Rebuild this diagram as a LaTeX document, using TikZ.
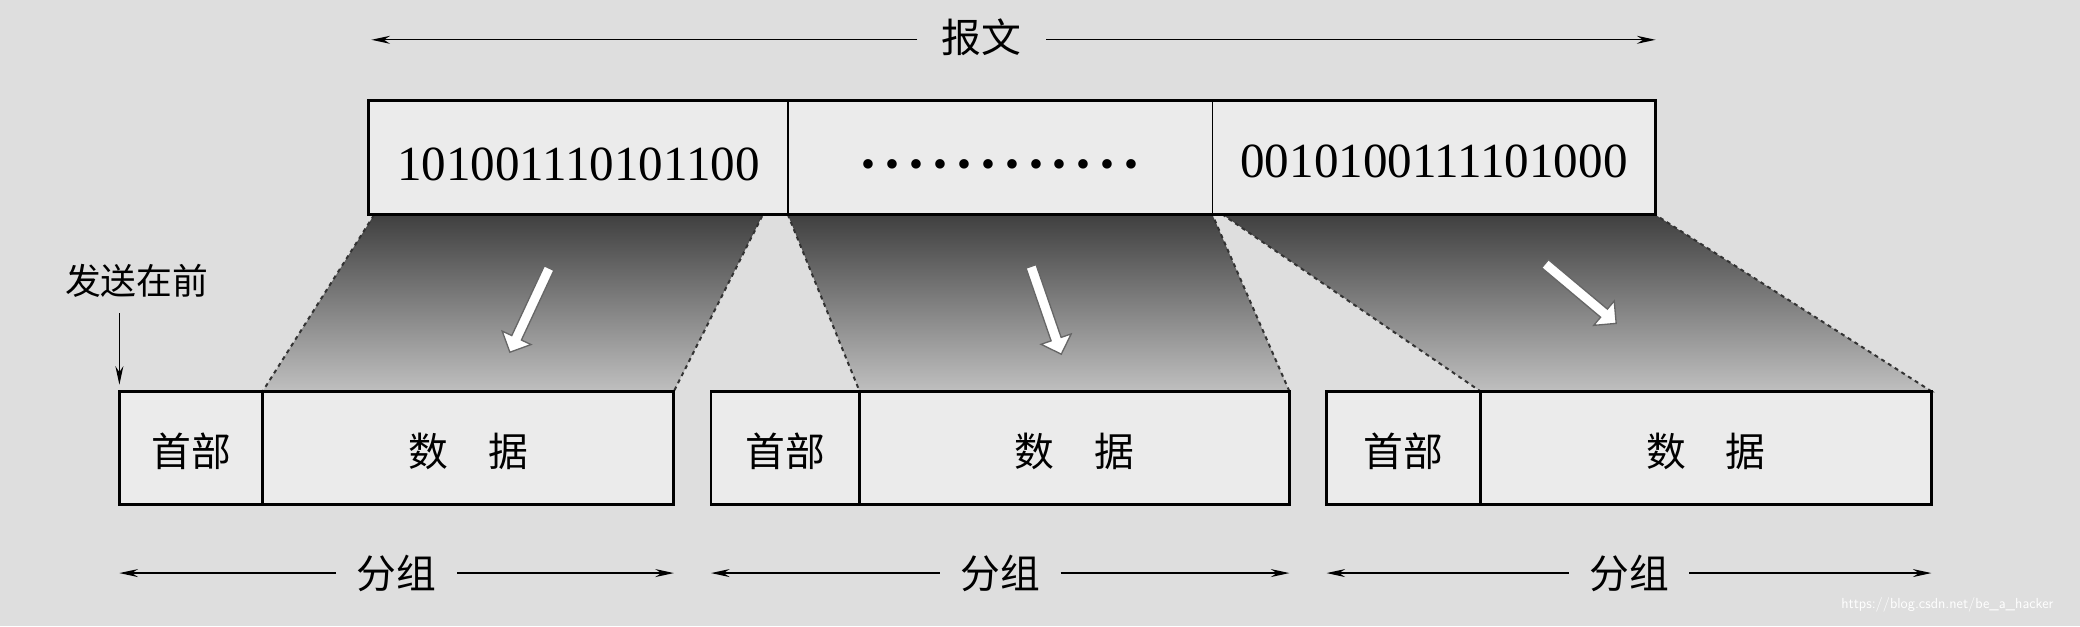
\documentclass[tikz,border=0pt]{standalone}
\usepackage{fontspec}
\setmainfont{Liberation Serif}
\newfontfamily\cjk{Noto Sans CJK SC}
\usetikzlibrary{shapes.arrows,arrows.meta}
\begin{document}
\begin{tikzpicture}[x=1pt,y=-1pt,
  box/.style={draw,line width=2.2pt},
  lbl/.style={font=\cjk\fontsize{30}{32}\selectfont},
  dig/.style={font=\fontsize{37}{40}\selectfont},
  shad/.style={top color=black!75,bottom color=black!25,draw=black!80,dashed,line width=1.5pt},
  harrow/.style={single arrow,draw=black!60,fill=white,minimum height=70pt,minimum width=24pt,single arrow head extend=5pt,inner sep=2pt,line width=1pt},
  dim/.style={-{Stealth[length=14pt,width=6pt]},line width=1pt}]
\fill[black!13] (0,0) rectangle (1568,472);
\useasboundingbox (0,0) rectangle (1568,472);
% shaded trapezoids
\shade[shad] (282,162) -- (575,162) -- (508,295) -- (198,295) -- cycle;
\shade[shad] (594,162) -- (914,162) -- (972,295) -- (648,295) -- cycle;
\shade[shad] (922,162) -- (1248,162) -- (1456,295) -- (1116,295) -- cycle;
% message
\node[lbl] (msg) at (740,28) {报文};
\coordinate (ml) at (280,30); \coordinate (mr) at (1248,30);
\draw[dim] (msg.west) ++(-15,2) coordinate (m1) -- (ml);
\draw[dim] (msg.east) ++(15,2) coordinate (m2) -- (mr);
\draw[box,fill=black!8] (278,76) rectangle (1248,162);
\draw[line width=1pt] (594,76) -- (594,162) (914,76) -- (914,162);
\node[dig] (b1) at (436,124) {101001110101100};
\node[dig,font=\fontsize{30}{32}\selectfont] (b2) at (754,127) {• • • • • • • • • • • •};
\node[dig] (b3) at (1081,122) {0010100111101000};
% arrows
\node[harrow,rotate=245] (a1) at (400,232) {};
\node[harrow,rotate=289] (a2) at (788,232) {};
\node[harrow,rotate=-40] (a3) at (1190,220) {};
% packets
\foreach \i/\l/\d/\r in {1/90/198/508,2/536/648/972,3/1000/1116/1456}{
  \draw[box,fill=black!8] (\l,295) rectangle (\r,380);
  \draw[line width=2pt] (\d,295) -- (\d,380);
  \node[lbl] (h\i) at ({(\l+\d)/2},340) {首部};
  \node[lbl] (d\i) at ({(\d+\r)/2},340) {数\quad 据};
  \node[lbl] (g\i) at ({(\l+\r)/2},432) {分组};
  \coordinate (gl\i) at (\l,432); \coordinate (gr\i) at (\r,432);
  \draw[dim] (g\i.west) ++(-12,0) -- (gl\i);
  \draw[dim] (g\i.east) ++(12,0) -- (gr\i);
}
\node[lbl,font=\cjk\fontsize{27}{30}\selectfont] (first) at (103,212) {发送在前};
\coordinate (fa) at (90,290);
\draw[dim] (90,236) -- (fa);
\node[font=\sffamily\fontsize{11}{12}\selectfont,text=white] (wm) at (1468,456) {https://blog.csdn.net/be\_a\_hacker};
\end{tikzpicture}
\end{document}
